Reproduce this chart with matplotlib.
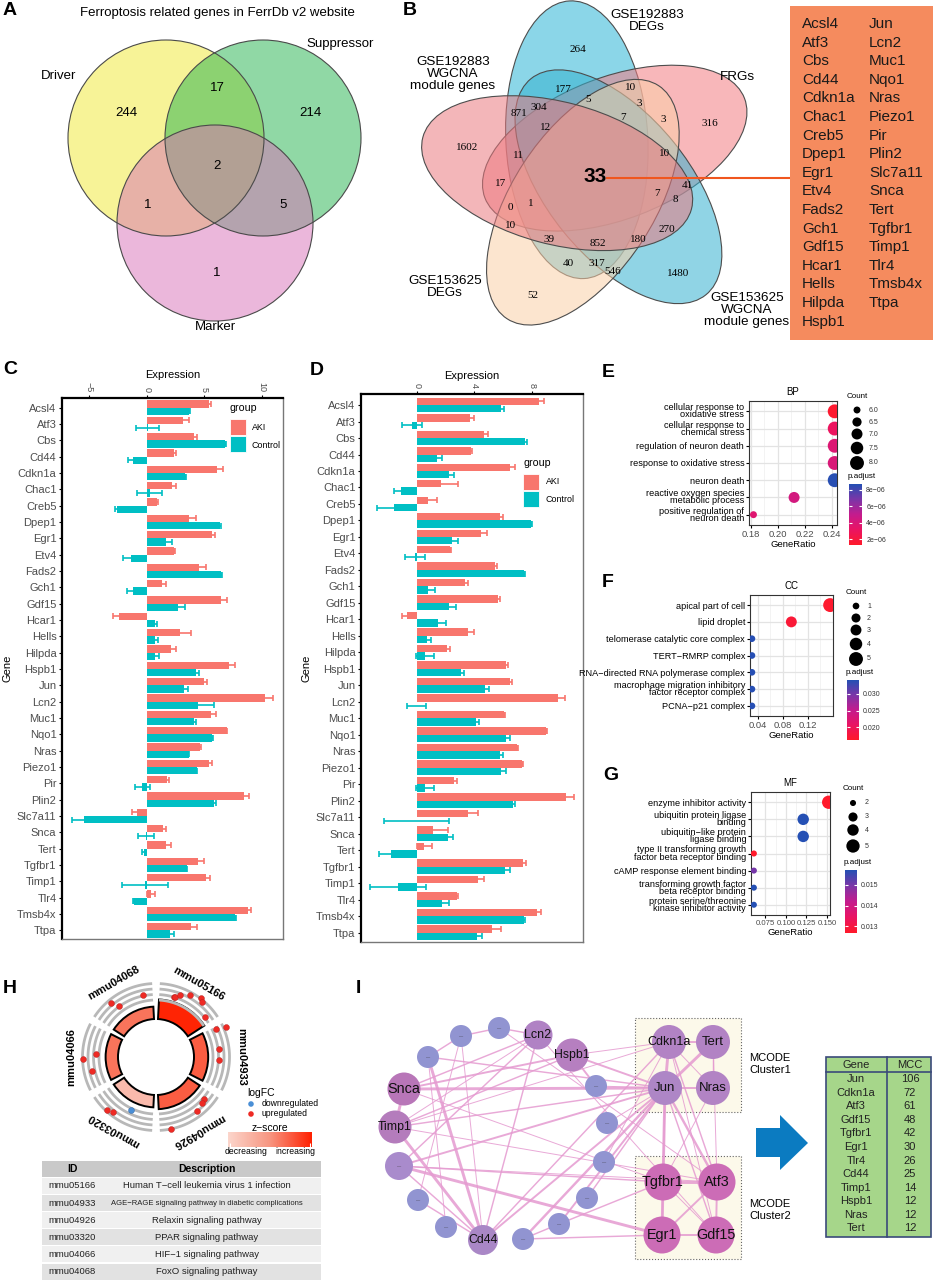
import numpy as np
import matplotlib
matplotlib.use('Agg')
import matplotlib.pyplot as plt
from matplotlib.patches import Ellipse, Circle, Wedge, Rectangle, Polygon
from matplotlib.colors import LinearSegmentedColormap

plt.rcParams['font.family'] = ['Liberation Sans', 'DejaVu Sans']
plt.rcParams['axes.unicode_minus'] = True

W, H = 934, 1284
fig = plt.figure(figsize=(W / 100, H / 100), dpi=100)


def pax(x0, y0, x1, y1, **kw):
    return fig.add_axes([x0 / W, 1 - y1 / H, (x1 - x0) / W, (y1 - y0) / H], **kw)

# ======================= DATA =======================
A_title = 'Ferroptosis related genes in FerrDb v2 website'
A_sets = ['Driver', 'Suppressor', 'Marker']
A_only = [244, 214, 1]          # Driver, Suppressor, Marker only
A_pairs = [17, 1, 5]            # D&S, D&M, S&M
A_all = 2

B_sets = ['GSE192883\nDEGs', 'FRGs', 'GSE153625\nWGCNA\nmodule genes',
          'GSE153625\nDEGs', 'GSE192883\nWGCNA\nmodule genes']
B_counts = [264, 177, 10, 5, 3, 871, 304, 12, 7, 3, 316, 1602, 11, 10, 33, 17,
            41, 7, 8, 0, 1, 10, 270, 39, 852, 180, 40, 317, 546, 1480, 52]

genes = ['Acsl4', 'Atf3', 'Cbs', 'Cd44', 'Cdkn1a', 'Chac1', 'Creb5', 'Dpep1', 'Egr1',
         'Etv4', 'Fads2', 'Gch1', 'Gdf15', 'Hcar1', 'Hells', 'Hilpda', 'Hspb1', 'Jun',
         'Lcn2', 'Muc1', 'Nqo1', 'Nras', 'Piezo1', 'Pir', 'Plin2', 'Slc7a11', 'Snca',
         'Tert', 'Tgfbr1', 'Timp1', 'Tlr4', 'Tmsb4x', 'Ttpa']

C_aki = [5.36, 3.13, 4.1, 2.4, 6.1, 2.17, 0.87, 3.7, 5.65, 2.4, 4.55, 1.36, 6.43, -2.4,
         2.9, 2.1, 7.1, 5.0, 10.3, 5.6, 6.95, 4.64, 5.36, 1.74, 8.4, -0.87, 1.39, 1.65,
         4.46, 5.1, 0.35, 8.75, 3.83]
C_aki_err = [0.25, 0.5, 0.25, 0.1, 0.5, 0.4, 0.1, 0.6, 0.25, 0.08, 0.55, 0.3, 0.5, 0.58,
             0.95, 0.45, 0.6, 0.25, 0.7, 0.45, 0.05, 0.1, 0.3, 0.2, 0.5, 0.4, 0.3, 0.45,
             0.5, 0.4, 0.35, 0.3, 0.5]
C_ctl = [3.68, 0.1, 6.8, -1.22, 3.33, 0.25, -2.55, 6.38, 1.7, -1.36, 6.46, -1.2, 2.75,
         0.72, 0.67, 0.72, 4.26, 3.25, 4.46, 4.1, 5.68, 3.65, 4.35, -0.4, 5.85, -5.42,
         -0.05, -0.25, 3.48, -0.15, -1.15, 7.68, 1.97]
C_ctl_err = [0.05, 1.0, 0.05, 0.4, 0.05, 1.1, 0.25, 0.1, 0.45, 0.7, 0.05, 0.55, 0.6, 0.2,
             0.3, 0.35, 0.25, 0.3, 1.4, 0.2, 0.05, 0.05, 0.05, 0.65, 0.15, 1.1, 0.68,
             0.2, 0.05, 2.0, 0.05, 0.05, 0.35]

D_aki = [8.47, 3.71, 4.69, 3.78, 6.5, 1.69, 0.79, 5.8, 4.45, 2.34, 5.45, 3.32, 5.64, -0.7,
         3.55, 2.09, 6.22, 6.5, 9.79, 6.08, 9.0, 7.0, 7.33, 2.58, 10.35, 3.53, 1.16, 0.53,
         7.38, 4.29, 2.81, 8.35, 5.22]
D_aki_err = [0.4, 0.3, 0.25, 0.05, 0.3, 1.2, 0.65, 0.2, 0.4, 0.05, 0.15, 0.25, 0.15, 0.3,
             0.4, 0.2, 0.15, 0.15, 0.5, 0.05, 0.05, 0.05, 0.05, 0.2, 0.55, 0.7, 1.0, 0.5,
             0.2, 0.37, 0.05, 0.25, 0.6]
D_ctl = [5.87, -0.35, 7.49, 1.44, 2.27, -1.11, -1.55, 7.96, 2.48, -0.1, 7.47, 0.79, 2.25,
         1.5, 0.74, 0.58, 3.06, 4.71, 0.0, 4.1, 6.2, 5.8, 5.87, 0.58, 6.66, 0.0, 2.16,
         -1.79, 6.15, -1.28, 1.76, 7.42, 4.18]
D_ctl_err = [0.2, 0.7, 0.2, 0.35, 0.3, 0.5, 1.2, 0.05, 0.4, 0.7, 0.05, 0.45, 0.5, 0.5,
             0.25, 0.6, 0.25, 0.3, 0.65, 0.2, 0.25, 0.2, 0.3, 0.6, 0.15, 2.25, 0.35, 0.8,
             0.35, 1.95, 0.5, 0.1, 0.35]

E_terms = ['cellular response to\noxidative stress', 'cellular response to\nchemical stress',
           'regulation of neuron death', 'response to oxidative stress', 'neuron death',
           'reactive oxygen species\nmetabolic process', 'positive regulation of\nneuron death']
E_ratio = [0.242, 0.242, 0.242, 0.242, 0.242, 0.212, 0.182]
E_count = [8, 8, 8, 8, 8, 7, 6]
E_padj = [1.5e-6, 3.0e-6, 3.8e-6, 4.0e-6, 8.6e-6, 4.3e-6, 3.7e-6]

F_terms = ['apical part of cell', 'lipid droplet', 'telomerase catalytic core complex',
           'TERT\u2212RMRP complex', 'RNA\u2212directed RNA polymerase complex',
           'macrophage migration inhibitory\nfactor receptor complex', 'PCNA\u2212p21 complex']
F_ratio = [0.156, 0.094, 0.031, 0.031, 0.031, 0.031, 0.031]
F_count = [5, 3, 1, 1, 1, 1, 1]
F_padj = [0.0165, 0.0172, 0.0340, 0.0340, 0.0340, 0.0340, 0.0340]

G_terms = ['enzyme inhibitor activity', 'ubiquitin protein ligase\nbinding',
           'ubiquitin\u2212like protein\nligase binding',
           'type II transforming growth\nfactor beta receptor binding',
           'cAMP response element binding', 'transforming growth factor\nbeta receptor binding',
           'protein serine/threonine\nkinase inhibitor activity']
G_ratio = [0.152, 0.121, 0.121, 0.061, 0.061, 0.061, 0.061]
G_count = [5, 4, 4, 2, 2, 2, 2]
G_padj = [0.0127, 0.0157, 0.0157, 0.0127, 0.0150, 0.0157, 0.0157]

H_ids = ['mmu05166', 'mmu04933', 'mmu04926', 'mmu03320', 'mmu04066', 'mmu04068']
H_desc = ['Human T\u2212cell leukemia virus 1 infection',
          'AGE\u2212RAGE signaling pathway in diabetic complications',
          'Relaxin signaling pathway', 'PPAR signaling pathway',
          'HIF\u22121 signaling pathway', 'FoxO signaling pathway']
H_count = [7, 4, 4, 3, 3, 3]
H_zscore = [2.65, 2.0, 2.0, 0.58, 1.73, 1.73]
H_logfc = [[1.4, 1.4, 2.7, 5.0, 6.4, 5.5, 1.4], [2.7, 7.3, 1.8, 1.4],
           [1.8, 2.3, 3.6, 6.4], [5.5, 4.5, -0.5], [0.2, 5.9, 2.3], [1.4, 4.5, 1.4]]

I_genes = ['Jun', 'Cdkn1a', 'Atf3', 'Gdf15', 'Tgfbr1', 'Egr1', 'Tlr4', 'Cd44', 'Timp1',
           'Hspb1', 'Nras', 'Tert']
I_mcc = [106, 72, 61, 48, 42, 30, 26, 25, 14, 12, 12, 12]
I_edges = [('Jun', 'Cdkn1a', 3), ('Jun', 'Tert', 3), ('Jun', 'Nras', 2), ('Cdkn1a', 'Tert', 2),
           ('Tert', 'Nras', 1.5), ('Cdkn1a', 'Nras', 1), ('Jun', 'Tgfbr1', 3), ('Jun', 'Atf3', 2.5),
           ('Jun', 'Egr1', 1.5), ('Jun', 'Gdf15', 1.5), ('Tgfbr1', 'Atf3', 3), ('Tgfbr1', 'Egr1', 3),
           ('Atf3', 'Gdf15', 2), ('Egr1', 'Gdf15', 2), ('Tgfbr1', 'Gdf15', 1), ('Atf3', 'Egr1', 2),
           ('Cdkn1a', 'Atf3', 1.5), ('Cdkn1a', 'Gdf15', 1), ('Nras', 'Tgfbr1', 1), ('Tert', 'Atf3', 1),
           ('Jun', 'Snca', 3), ('Jun', 'Timp1', 1.5), ('Jun', 'Hspb1', 2), ('Jun', 'n12', 2),
           ('Jun', 'Cd44', 2), ('Jun', 'n9', 2.5), ('Jun', 'n8', 2), ('Jun', 'n7', 1.5),
           ('Jun', 'n4', 1), ('Snca', 'Hspb1', 2), ('Snca', 'Lcn2', 1.5), ('Snca', 'Timp1', 3),
           ('Timp1', 'Hspb1', 1.5), ('Timp1', 'Cd44', 3), ('Timp1', 'Lcn2', 1), ('Timp1', 'Cdkn1a', 1),
           ('Timp1', 'Atf3', 1), ('n12', 'Tgfbr1', 1.5), ('n12', 'Egr1', 3), ('n12', 'Lcn2', 1.5),
           ('n12', 'Cd44', 1.5), ('Cd44', 'n3', 3), ('Cd44', 'n1', 1), ('Cd44', 'Lcn2', 1.5),
           ('Cd44', 'Cdkn1a', 1.5), ('Cd44', 'n11', 1.5), ('n1', 'n2', 1.5), ('n2', 'Lcn2', 1.5),
           ('n3', 'n1', 1.5), ('n1', 'n11', 1), ('n3', 'n10', 1), ('n4', 'Hspb1', 2),
           ('Hspb1', 'Cdkn1a', 1), ('n8', 'Tgfbr1', 1.5), ('n9', 'n8', 1.5), ('n6', 'Cdkn1a', 1),
           ('n5', 'Jun', 1), ('n2', 'Atf3', 1), ('Lcn2', 'Gdf15', 1), ('Snca', 'Tgfbr1', 1),
           ('n3', 'Jun', 1.5), ('n9', 'Egr1', 1.5), ('n12', 'Atf3', 1)]

# ======================= STYLE =======================
AKI_C, CTL_C = '#F8766D', '#00BFC4'
cmap_p = LinearSegmentedColormap.from_list('rb', ['#ff1a2a', '#ea1463', '#c41c8e', '#7b36a8', '#2450b4'])
cmap_z = LinearSegmentedColormap.from_list('zs', ['#fcd6cc', '#f79580', '#ff2000'])

# ======================= C / D bars =======================
def barpanel(rect, aki, aki_e, ctl, ctl_e, xlim, xticks, ylim):
    ax = pax(*rect)
    y = np.arange(len(genes))
    ax.barh(y - 0.225, aki, height=0.45, color=AKI_C, zorder=2)
    ax.barh(y + 0.225, ctl, height=0.45, color=CTL_C, zorder=2)
    ax.errorbar(aki, y - 0.225, xerr=aki_e, fmt='none', ecolor=AKI_C, elinewidth=1.2,
                capsize=2.4, capthick=1.2, zorder=3)
    ax.errorbar(ctl, y + 0.225, xerr=ctl_e, fmt='none', ecolor=CTL_C, elinewidth=1.2,
                capsize=2.4, capthick=1.2, zorder=3)
    ax.set_xlim(*xlim)
    ax.set_ylim(*ylim)
    ax.set_yticks(y)
    ax.set_yticklabels(genes, fontsize=8, color='#4d4d4d')
    ax.xaxis.tick_top()
    ax.xaxis.set_label_position('top')
    ax.set_xticks(xticks)
    ax.tick_params(axis='x', labelrotation=-90, labelsize=6.5, labelcolor='#4d4d4d',
                   length=2.5, pad=1.5)
    ax.tick_params(axis='y', length=2.5, pad=1.5)
    ax.set_xlabel('Expression', fontsize=8, labelpad=3)
    ax.set_ylabel('Gene', fontsize=8, labelpad=3)
    for s in ['top', 'left']:
        ax.spines[s].set_linewidth(1.6)
        ax.spines[s].set_color('black')
    for s in ['right', 'bottom']:
        ax.spines[s].set_linewidth(1.0)
        ax.spines[s].set_color('#777777')
    return ax

barpanel((62, 398, 283, 939), C_aki, C_aki_err, C_ctl, C_ctl_err, (-7.37, 11.83),
         [-5, 0, 5, 10], (32.53, -0.6))
barpanel((361, 394, 583, 942), D_aki, D_aki_err, D_ctl, D_ctl_err, (-3.87, 11.55),
         [0, 4, 8], (32.57, -0.67))

# ======================= E / F / G dot plots =======================
def smap(c, cmin, cmax, smin, smax):
    return smin + (np.asarray(c, float) - cmin) / (cmax - cmin) * (smax - smin)


def dotpanel(rect, terms, ratio, count, padj, xlim, xticks, xminor, xlabels, title,
             crange, srange, vrange, xfs=6.8):
    ax = pax(*rect)
    y = np.arange(len(terms))
    ax.scatter(ratio, y, s=smap(count, *crange, *srange), c=padj, cmap=cmap_p,
               vmin=vrange[0], vmax=vrange[1], zorder=3, edgecolors='none')
    ax.set_xlim(*xlim)
    ax.set_ylim(len(terms) - 0.4, -0.6)
    ax.set_yticks(y)
    ax.set_yticklabels(terms, fontsize=6.6, linespacing=0.72)
    ax.set_xticks(xticks)
    ax.set_xticklabels(xlabels, fontsize=xfs, color='#4d4d4d')
    ax.set_xticks(xminor, minor=True)
    ax.tick_params(axis='x', which='minor', length=0)
    ax.tick_params(axis='both', which='major', length=2.5, pad=1, width=0.8)
    ax.grid(True, which='major', color='#e3e3e3', lw=0.9)
    ax.grid(True, which='minor', axis='x', color='#efefef', lw=0.5)
    ax.set_axisbelow(True)
    for s in ax.spines.values():
        s.set_color('#333333')
        s.set_linewidth(0.8)
    ax.set_title(title, fontsize=7, pad=4)
    ax.set_xlabel('GeneRatio', fontsize=6.8, labelpad=1)
    return ax

dotpanel((749, 401, 837, 525), E_terms, E_ratio, E_count, E_padj, (0.1787, 0.2437),
         [0.18, 0.20, 0.22, 0.24], [0.19, 0.21, 0.23], ['0.18', '0.20', '0.22', '0.24'],
         'BP', (6, 8), (25, 100), (1.27e-6, 8.7e-6))
dotpanel((750, 595, 833, 716), F_terms, F_ratio, F_count, F_padj, (0.0279, 0.1606),
         [0.04, 0.08, 0.12], [0.06, 0.10, 0.14], ['0.04', '0.08', '0.12'],
         'CC', (1, 5), (23, 100), (0.0162, 0.0342))
dotpanel((751, 792, 830, 915), G_terms, G_ratio, G_count, G_padj, (0.0575, 0.1536),
         [0.075, 0.100, 0.125, 0.150], [0.0875, 0.1125, 0.1375],
         ['0.075', '0.100', '0.125', '0.150'], 'MF', (2, 5), (19, 92), (0.01268, 0.01572),
         xfs=5.6)


def colorbar(rect, vrange, ticks, labels):
    cax = pax(*rect)
    grad = np.linspace(vrange[0], vrange[1], 256)[:, None]
    cax.imshow(grad, aspect='auto', cmap=cmap_p, origin='lower',
               extent=[0, 1, vrange[0], vrange[1]], vmin=vrange[0], vmax=vrange[1])
    cax.set_xticks([])
    cax.set_yticks(ticks)
    cax.set_yticklabels(labels, fontsize=5, color='#333333')
    cax.yaxis.tick_right()
    cax.tick_params(axis='y', direction='in', length=2.5, color='white', pad=3,
                    left=True, right=True)
    for s in cax.spines.values():
        s.set_visible(False)

colorbar((849, 484, 862, 545), (1.27e-6, 8.7e-6), [2e-6, 4e-6, 6e-6, 8e-6],
         ['2e\u221206', '4e\u221206', '6e\u221206', '8e\u221206'])
colorbar((847, 680, 859, 740), (0.0162, 0.0342), [0.020, 0.025, 0.030],
         ['0.020', '0.025', '0.030'])
colorbar((845, 870, 857, 933), (0.01268, 0.01572), [0.013, 0.014, 0.015],
         ['0.013', '0.014', '0.015'])

# ======================= overlay =======================
ov = fig.add_axes([0, 0, 1, 1], zorder=5)
ov.set_xlim(0, W)
ov.set_ylim(H, 0)
ov.axis('off')
ov.patch.set_alpha(0)

# panel letters
for lab, x, y in [('A', 3, 2), ('B', 403, 2), ('C', 3, 361), ('D', 310, 362), ('E', 602, 364),
                  ('F', 602, 574), ('G', 603, 767), ('H', 3, 980), ('I', 356, 980)]:
    ov.text(x, y, lab, fontsize=14, fontweight='bold', va='top', ha='left')

# ---- A venn ----
ov.text(217, 13, A_title, fontsize=9.5, ha='center', va='center')
A_centers = [(166, 138), (263, 138), (215, 223)]
A_cols = ['#f0e830', '#22b24c', '#d870b8']
for (cx, cy), col in zip(A_centers, A_cols):
    ov.add_patch(Circle((cx, cy), 98, fc=col, alpha=0.5, ec='none'))
for (cx, cy) in A_centers:
    ov.add_patch(Circle((cx, cy), 98, fill=False, ec='#4a4a4a', lw=0.8))
ov.text(59, 76, A_sets[0], fontsize=9.5, ha='center', va='center')
ov.text(340, 44, A_sets[1], fontsize=9.5, ha='center', va='center')
ov.text(215, 327, A_sets[2], fontsize=9.5, ha='center', va='center')
for v, (x, y) in zip(A_only, [(126, 113), (310, 113), (217, 273)]):
    ov.text(x, y, str(v), fontsize=9.5, ha='center', va='center')
for v, (x, y) in zip(A_pairs, [(217, 88), (148, 205), (283, 205)]):
    ov.text(x, y, str(v), fontsize=9.5, ha='center', va='center')
ov.text(217, 166, str(A_all), fontsize=9.5, ha='center', va='center')

# ---- B venn ----
Bc = (590, 170)
B_cols = ['#2cb5d6', '#f47c82', '#36b2d0', '#fbd0a8', '#ea7a80']
for i, col in enumerate(B_cols):
    psi = np.radians(-23.5 + 72 * i)
    cx = Bc[0] + 33 * np.sin(psi)
    cy = Bc[1] - 33 * np.cos(psi)
    ang = -3 + 72 * i
    ov.add_patch(Ellipse((cx, cy), 142, 278, angle=ang, fc=col, alpha=0.55, ec='none'))
    ov.add_patch(Ellipse((cx, cy), 142, 278, angle=ang, fill=False, ec='#4d4d4d', lw=0.8))
B_xy = [(578, 49), (563, 89), (631, 87), (588, 99), (639, 103), (519, 113), (539, 107),
        (546, 127), (623, 117), (663, 119), (710, 124), (467, 147), (518, 156), (665, 153),
        (595, 177), (501, 183), (687, 185), (657, 193), (675, 200), (510, 207), (531, 203),
        (511, 226), (667, 230), (549, 239), (598, 244), (638, 239), (568, 264), (597, 263),
        (613, 272), (678, 274), (533, 295)]
for v, (x, y) in zip(B_counts, B_xy):
    if v == 33:
        ov.text(x, y, str(v), fontsize=15, fontweight='bold', ha='center', va='center')
    else:
        ov.text(x, y, str(v), fontsize=8, ha='center', va='center',
                family=['Liberation Serif', 'DejaVu Serif'])
for lab, (x, y) in zip(B_sets, [(647, 21), (737, 77), (747, 310), (445, 287), (453, 74)]):
    ov.text(x, y, lab, fontsize=9.7, ha='center', va='center', linespacing=1.0)
ov.plot([607, 790], [178, 178], color='#f0561e', lw=1.5, zorder=3)
ov.add_patch(Rectangle((790, 6), 143, 334, fc='#f58b5e', ec='none', zorder=4))
for k, g in enumerate(genes):
    col, row = (0, k) if k < 17 else (1, k - 17)
    ov.text(802 + col * 67, 24 + row * 18.6, g, fontsize=11, ha='left', va='center',
            color='#1a1a1a', zorder=5)

# ---- C / D legends ----
for (gx, gy, lx) in [(230, 408, 252), (523, 463, 546)]:
    ov.text(gx, gy, 'group', fontsize=7.7, ha='left', va='center')
    ov.add_patch(Rectangle((gx, gy + 11), 16, 16, fc=AKI_C, ec='white', lw=0.6))
    ov.add_patch(Rectangle((gx, gy + 28), 16, 16, fc=CTL_C, ec='white', lw=0.6))
    ov.text(lx, gy + 19, 'AKI', fontsize=6.4, ha='left', va='center')
    ov.text(lx, gy + 37, 'Control', fontsize=6.4, ha='left', va='center')

# ---- E/F/G size legends ----
def size_legend(x, y_title, ys, vals, labs, crange, srange, lx):
    ov.text(x, y_title, 'Count', fontsize=5.8, ha='center', va='center')
    ov.scatter([x] * len(vals), ys, s=smap(vals, *crange, *srange), c='black',
               edgecolors='none')
    for yy, lb in zip(ys, labs):
        ov.text(lx, yy, lb, fontsize=5, ha='left', va='center', color='#333333')

size_legend(857, 396, [410, 422, 434, 448, 463], [6, 6.5, 7, 7.5, 8],
            ['6.0', '6.5', '7.0', '7.5', '8.0'], (6, 8), (25, 100), 869)
ov.text(862, 477, 'p.adjust', fontsize=5.8, ha='center', va='center')
size_legend(856, 592, [606, 618, 630, 644, 659], [1, 2, 3, 4, 5],
            ['1', '2', '3', '4', '5'], (1, 5), (23, 100), 867)
ov.text(860, 673, 'p.adjust', fontsize=5.8, ha='center', va='center')
size_legend(853, 789, [803, 817, 830, 846], [2, 3, 4, 5],
            ['2', '3', '4', '5'], (2, 5), (19, 92), 865)
ov.text(858, 862, 'p.adjust', fontsize=5.8, ha='center', va='center')

# ---- H GOCircle ----
hc = (156, 1057)


def hp(r, a):
    t = np.radians(a)
    return hc[0] + r * np.cos(t), hc[1] - r * np.sin(t)

sector_center = [60, 0, -60, -120, 180, 120]
dot_offsets = [[13, 12, 9, 1, -7, -10, -21], [25, 23, 7, -3], [19, 15, 7, -18],
               [-13, -8, 5], [-2.5, 1.3, 12.5], [-18, 10, 6]]
for k, ac in enumerate(sector_center):
    a1, a2 = ac - 27, ac + 27
    tt = np.linspace(a1, a2, 60)
    for rr in [57, 62.5, 68, 73.5]:
        xs, ys = hp(rr, tt)
        ov.plot(xs, ys, color='#b8b8b8', lw=2.0, solid_capstyle='butt')
    r_out = 45 + H_count[k] * 1.8
    ov.add_patch(Wedge(hc, r_out, -a2, -a1, width=r_out - 38,
                       fc=cmap_z(H_zscore[k] / 2.7), ec='black', lw=1.4))
    for off, lfc in zip(dot_offsets[k], H_logfc[k]):
        rr = 60 + 2.2 * lfc
        x, y = hp(rr, ac + off)
        ov.scatter([x], [y], s=18, c='#4a8fd6' if lfc < 0 else '#ee2a24',
                   edgecolors='#b02020' if lfc >= 0 else '#2a5f9e', linewidths=0.3, zorder=6)
    x, y = hp(85, ac)
    ov.text(x, y, H_ids[k], fontsize=8, fontweight='bold', ha='center', va='center',
            rotation=ac - 90, rotation_mode='anchor')

ov.text(247, 1093, 'logFC', fontsize=7.5, ha='left', va='center')
ov.scatter([251], [1104], s=16, c='#4a8fd6', edgecolors='none')
ov.scatter([251], [1114], s=16, c='#ee2a24', edgecolors='none')
ov.text(262, 1104, 'downregulated', fontsize=6.2, ha='left', va='center')
ov.text(262, 1114, 'upregulated', fontsize=6.2, ha='left', va='center')
ov.text(270, 1128, 'z\u2212score', fontsize=7.5, ha='center', va='center')
zax = pax(228, 1132, 312, 1147)
zax.imshow(np.linspace(0, 1, 256)[None, :], aspect='auto', cmap=cmap_z, extent=[0, 1, 0, 1])
zax.set_xticks([0.02, 0.98])
zax.tick_params(axis='x', direction='in', length=3, color='white', labelbottom=False)
zax.set_yticks([])
for s in zax.spines.values():
    s.set_visible(False)
ov.text(246, 1152, 'decreasing', fontsize=6.2, ha='center', va='center')
ov.text(295, 1152, 'increasing', fontsize=6.2, ha='center', va='center')

# H table
ov.add_patch(Rectangle((42, 1161), 279, 16, fc='#c9c9c9', ec='none'))
ov.text(72, 1169, 'ID', fontsize=7.5, fontweight='bold', ha='center', va='center')
ov.text(207, 1169, 'Description', fontsize=7.5, fontweight='bold', ha='center', va='center')
for k, (i_, d_) in enumerate(zip(H_ids, H_desc)):
    y0 = 1178 + k * 17.1
    ov.add_patch(Rectangle((42, y0), 279, 16, fc='#f0f0f0' if k % 2 == 0 else '#e2e2e2',
                           ec='none'))
    ov.text(72, y0 + 8, i_, fontsize=6.8, ha='center', va='center', color='#222222')
    ov.text(207, y0 + 8, d_, fontsize=5.5 if k == 1 else 6.8, ha='center', va='center',
            color='#222222')

# ---- I network ----
I_nodes = {
    'Cdkn1a': (669, 1042, 17, '#b283c4', 9), 'Tert': (713, 1042, 17, '#b283c4', 9.5),
    'Jun': (665, 1088, 17, '#ae86c6', 9.5), 'Nras': (713, 1088, 17, '#b283c4', 9.5),
    'Tgfbr1': (663, 1182, 18.5, '#cc6cb6', 10.4), 'Atf3': (717, 1182, 18.5, '#cc6cb6', 10.4),
    'Egr1': (662, 1235, 18.5, '#cc6cb6', 10.4), 'Gdf15': (716, 1235, 18.5, '#cc6cb6', 10.4),
    'Lcn2': (538, 1035, 14.5, '#b082c4', 9), 'Hspb1': (572, 1055, 16.5, '#b67fc0', 8.8),
    'Snca': (404, 1089, 16.5, '#b876b8', 10.4), 'Timp1': (395, 1127, 16.5, '#b47cbc', 8.8),
    'Cd44': (483, 1240, 15, '#a987c6', 8.9), 'n12': (399, 1166, 14, '#a98bcc', 0),
    'n1': (461, 1036, 11, '#9194d1', 0), 'n2': (499, 1028, 11, '#9194d1', 0),
    'n3': (428, 1057, 11, '#9194d1', 0), 'n4': (596, 1086, 11, '#9194d1', 0),
    'n5': (607, 1123, 11, '#9194d1', 0), 'n6': (604, 1162, 11, '#9194d1', 0),
    'n7': (587, 1198, 11, '#9194d1', 0), 'n8': (559, 1224, 11, '#9194d1', 0),
    'n9': (523, 1239, 11, '#9194d1', 0), 'n10': (446, 1227, 11, '#9194d1', 0),
    'n11': (418, 1200, 11, '#9194d1', 0),
}
ov.add_patch(Rectangle((635, 1018), 106, 94, fc='#fcf9ea', ec='#666666', lw=0.8, ls=':'))
ov.add_patch(Rectangle((635, 1156), 106, 103, fc='#fcf9ea', ec='#666666', lw=0.8, ls=':'))
for a, b, w in I_edges:
    xa, ya = I_nodes[a][:2]
    xb, yb = I_nodes[b][:2]
    ov.plot([xa, xb], [ya, yb], color='#e59ad0', lw=w * 0.7, alpha=0.85, zorder=6,
            solid_capstyle='round')
for name, (x, y, r, col, fs) in I_nodes.items():
    ov.add_patch(Circle((x, y), r, fc=col, ec='none', zorder=7))
    if fs > 0:
        ov.text(x, y, name, fontsize=fs, ha='center', va='center', zorder=8, color='#111111')
    else:
        ov.text(x, y, '\u2014', fontsize=3, ha='center', va='center', zorder=8, color='#333333')
ov.text(749, 1064, 'MCODE\nCluster1', fontsize=8, ha='left', va='center', linespacing=1.15)
ov.text(749, 1210, 'MCODE\nCluster2', fontsize=8, ha='left', va='center', linespacing=1.15)
ov.add_patch(Polygon([(756, 1128), (780, 1128), (780, 1115), (808, 1143), (780, 1170),
                      (780, 1157), (756, 1157)], closed=True, fc='#0b7bc1', ec='none'))
# I table
ov.add_patch(Rectangle((826, 1057), 105, 180, fc='#a6d68a', ec='#3b4a7a', lw=1.2))
ov.plot([887, 887], [1057, 1237], color='#3b4a7a', lw=1.2)
ov.plot([826, 931], [1072, 1072], color='#3b4a7a', lw=1.2)
ov.text(856, 1065, 'Gene', fontsize=8, ha='center', va='center', color='#222222')
ov.text(910, 1065, 'MCC', fontsize=8, ha='center', va='center', color='#222222')
for k, (g, m) in enumerate(zip(I_genes, I_mcc)):
    yy = 1079.3 + k * 13.55
    ov.text(856, yy, g, fontsize=8, ha='center', va='center', color='#222222')
    ov.text(910, yy, str(m), fontsize=8, ha='center', va='center', color='#222222')

fig.savefig('out.png', dpi=100)
